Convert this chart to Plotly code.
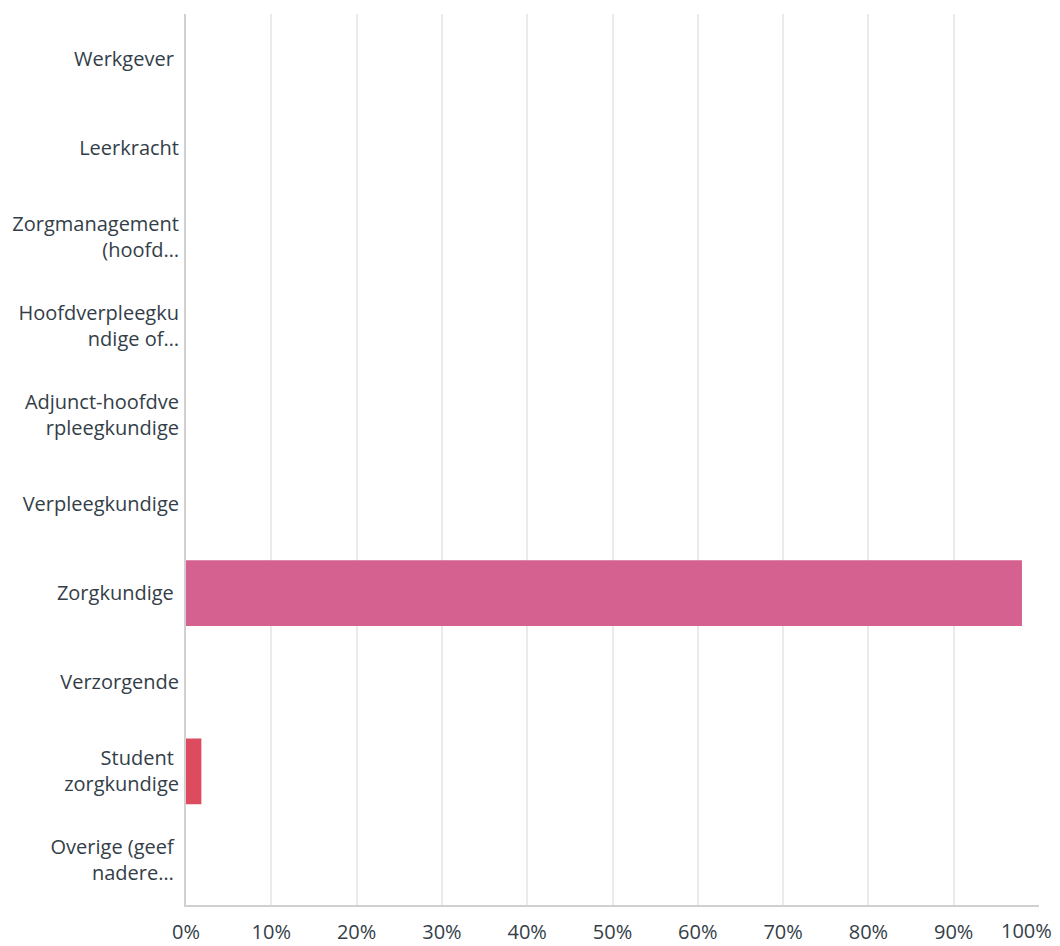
import plotly.graph_objects as go

categories = [
    "Werkgever\u00a0",
    "Leerkracht",
    "Zorgmanagement<br>(hoofd…",
    "Hoofdverpleegku<br>ndige of…",
    "Adjunct-hoofdve<br>rpleegkundige",
    "Verpleegkundige",
    "Zorgkundige\u00a0",
    "Verzorgende",
    "Student\u00a0<br>zorgkundige",
    "Overige (geef\u00a0<br>nadere…\u00a0",
]
values = [0, 0, 0, 0, 0, 0, 98.0, 0, 1.8, 0]
bar_colors = ["#D4618F"] * 10
bar_colors[8] = "#DC4C5E"

tick_vals = [0, 10, 20, 30, 40, 50, 60, 70, 80, 90, 100]
tick_text = ["0%", "10%", "20%", "30%", "40%", "50%", "60%", "70%", "80%", "90%", "100%"]

fig = go.Figure(go.Bar(
    x=values,
    y=categories,
    orientation="h",
    marker=dict(color=bar_colors, line=dict(width=0)),
    width=0.74,
    hoverinfo="skip",
))

# page body has an 8px margin, so the figure is offset by 8px
fig.update_layout(
    width=1052,
    height=938,
    margin=dict(l=178, r=21, t=6, b=41),
    paper_bgcolor="white",
    plot_bgcolor="white",
    showlegend=False,
    font=dict(family="Open Sans", size=20, color="#333E48"),
)

fig.update_xaxes(
    range=[0, 100],
    tickvals=tick_vals,
    ticktext=tick_text[:-1] + [""],
    showgrid=True,
    gridcolor="#EBEBEB",
    gridwidth=2,
    showline=True,
    linecolor="#D0D0D0",
    linewidth=2,
    zeroline=False,
    ticks="",
    ticklabelstandoff=8,
    ticklabeloverflow="allow",
    automargin=False,
    tickfont=dict(size=20, color="#333E48"),
    fixedrange=True,
)
fig.update_yaxes(
    categoryorder="array",
    categoryarray=categories,
    autorange="reversed",
    showline=True,
    linecolor="#D0D0D0",
    linewidth=2,
    showgrid=False,
    zeroline=False,
    ticks="",
    ticklabelstandoff=1,
    automargin=False,
    tickfont=dict(size=20, color="#333E48"),
    fixedrange=True,
)

# last tick label shifted left so it stays inside the page (as in the reference)
fig.add_annotation(
    x=tick_vals[-1], xref="x", y=0, yref="paper",
    text=tick_text[-1], showarrow=False,
    xanchor="right", yanchor="top",
    xshift=15, yshift=-10,
    font=dict(size=20, color="#333E48"),
)

fig.write_html("out.html")
